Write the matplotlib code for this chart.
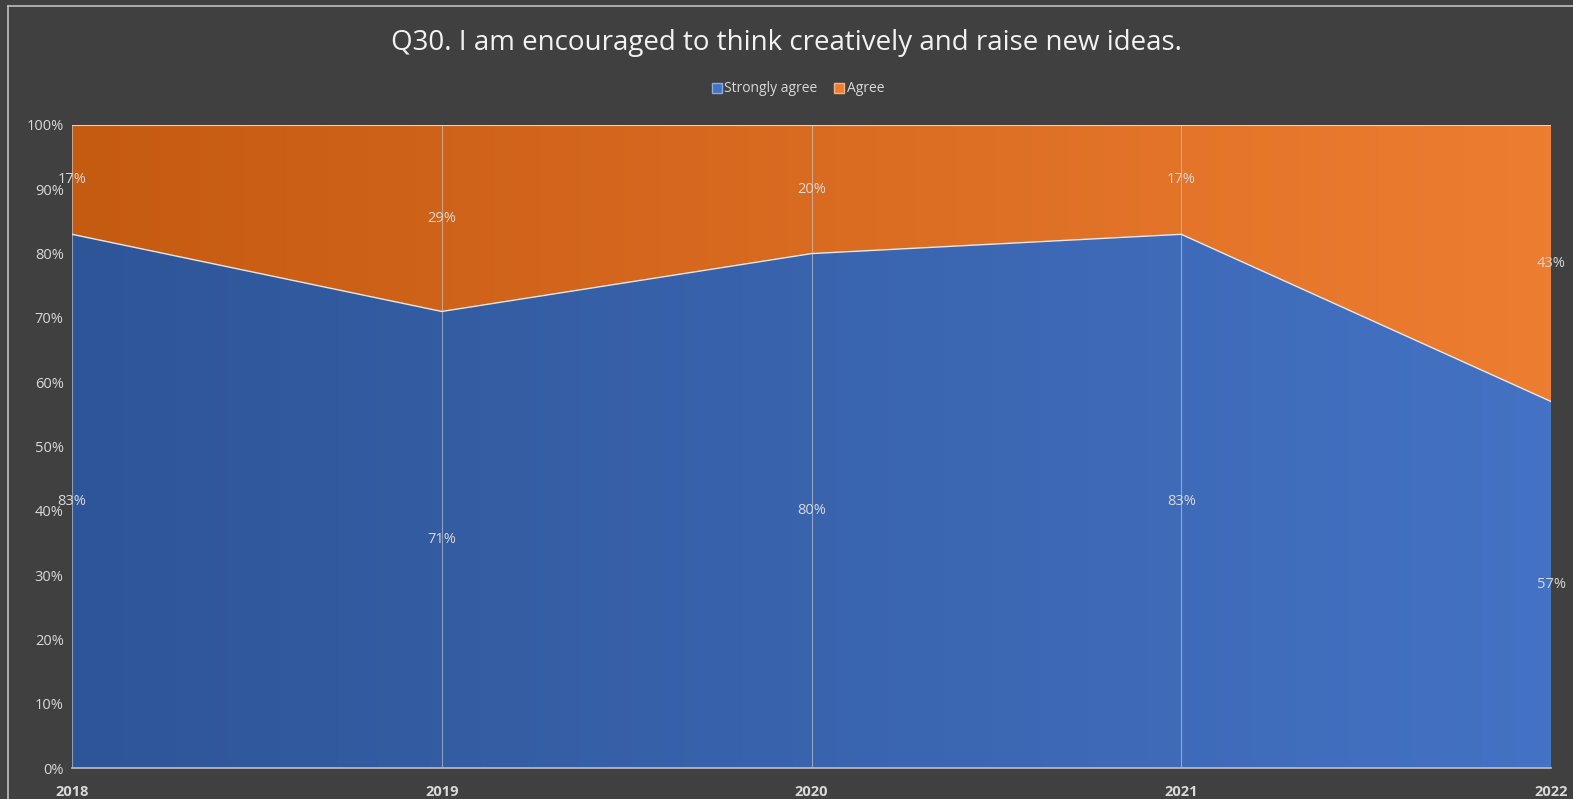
import numpy as np
import matplotlib
matplotlib.use("Agg")
import matplotlib.pyplot as plt
from matplotlib.colors import LinearSegmentedColormap
from matplotlib.patches import Patch
from matplotlib.lines import Line2D

years = ["2018", "2019", "2020", "2021", "2022"]
strongly_agree = [83, 71, 80, 83, 57]
agree = [17, 29, 20, 17, 43]
series_names = ["Strongly agree", "Agree"]
title = "Q30. I am encouraged to think creatively and raise new ideas."

plt.rcParams['font.family'] = ['Open Sans', 'DejaVu Sans']
BG = "#404040"
TXT = "#D9D9D9"

W, H = 1573, 799
fig = plt.figure(figsize=(W/100, H/100), dpi=100, facecolor=BG)
fx, fy = 7.5/W, 1 - 5.5/H
fig.add_artist(Line2D([fx, fx], [0, fy], transform=fig.transFigure, color="#BFBFBF", lw=1.2))
fig.add_artist(Line2D([fx, 1], [fy, fy], transform=fig.transFigure, color="#BFBFBF", lw=1.2))
ax = fig.add_axes([72/W, 1-768/H, (1551-72)/W, (768-125)/H])
ax.set_facecolor(BG)

x = np.arange(len(years))
sa = np.array(strongly_agree) / 100
ag = np.array(agree) / 100
top = sa + ag

blue_cmap = LinearSegmentedColormap.from_list("b", ["#2E5597", "#4472C4"])
orange_cmap = LinearSegmentedColormap.from_list("o", ["#C55A11", "#ED7D31"])
grad = np.linspace(0, 1, 256).reshape(1, -1)

for lower, upper, cmap in [(np.zeros_like(sa), sa, blue_cmap), (sa, top, orange_cmap)]:
    poly = ax.fill_between(x, lower, upper, facecolor="none", edgecolor="none")
    im = ax.imshow(grad, cmap=cmap, aspect="auto", extent=[x[0], x[-1], 0, 1],
                   origin="lower", zorder=1)
    path = poly.get_paths()[0]
    im.set_clip_path(path, transform=ax.transData)

ax.plot(x, sa, color="#E8E8E8", lw=1.0, zorder=3)
ax.plot(x, top, color="#F2D0B8", lw=1.5, zorder=3)
for xi in x:
    ax.axvline(xi, color="#D0D0D0", lw=0.8, alpha=0.6, zorder=2)

for xi, s, a in zip(x, strongly_agree, agree):
    ax.text(xi, s/200, f"{s}%", ha="center", va="center", color=TXT, fontsize=10.5, zorder=4)
    ax.text(xi, s/100 + a/200, f"{a}%", ha="center", va="center", color=TXT, fontsize=10.5, zorder=4)

ax.set_xlim(x[0], x[-1])
ax.set_ylim(0, 1)
ax.set_xticks(x)
ax.set_xticklabels(years, fontweight="bold")
ax.set_yticks(np.arange(0, 1.01, 0.1))
ax.set_yticklabels([f"{int(round(v*100))}%" for v in np.arange(0, 1.01, 0.1)])
ax.tick_params(axis="x", colors=TXT, labelsize=10.5, length=0, pad=12)
ax.tick_params(axis="y", colors=TXT, labelsize=10.5, length=0, pad=6)
for sp in ["top", "right", "left"]:
    ax.spines[sp].set_visible(False)
ax.spines["bottom"].set_color("#BFBFBF")
ax.spines["bottom"].set_linewidth(1.2)

fig.text(0.5, 1-43/H, title, ha="center", va="center", color="#F2F2F2", fontsize=20)

handles = [Patch(facecolor="#4472C4", edgecolor="#8FAADC"), Patch(facecolor="#ED7D31", edgecolor="#F4B183")]
fig.legend(handles, series_names, loc="center", bbox_to_anchor=(798/W, 1-89/H), ncol=2,
           frameon=False, fontsize=10, labelcolor=TXT, handlelength=0.7, handleheight=0.7,
           handletextpad=0.2, columnspacing=1.2)

fig.savefig("out.png", dpi=100, facecolor=BG)
